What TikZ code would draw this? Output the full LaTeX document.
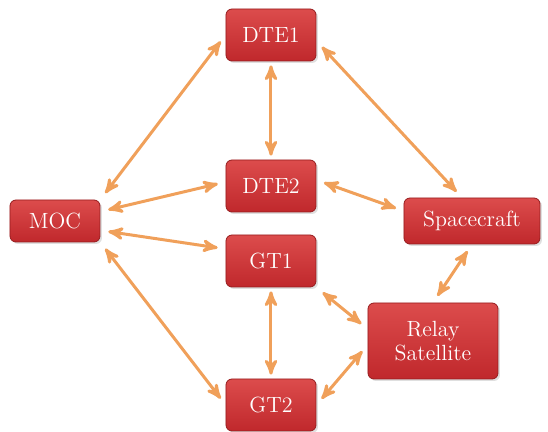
\documentclass[tikz,border=0pt]{standalone}
\usepackage{tikz}
\usetikzlibrary{arrows}
\usetikzlibrary{shadows}
\definecolor{boxred}{RGB}{192,40,44}
\definecolor{boxtop}{RGB}{220,76,76}
\definecolor{boxedge}{RGB}{150,28,30}
\definecolor{linkorange}{RGB}{240,160,90}
\tikzset{
  unit/.style={draw=boxedge, rounded corners=3pt, top color=boxtop, bottom color=boxred,
    text=white, font=\rmfamily\fontsize{11}{12}\selectfont, align=center, inner sep=2pt,
    minimum width=45pt, minimum height=26pt,
    drop shadow={opacity=0.25, shadow xshift=1pt, shadow yshift=-1pt}},
  link/.style={<->, >=stealth', line width=1.5pt, draw=linkorange, shorten >=4pt, shorten <=4pt}
}
\begin{document}
\begin{tikzpicture}[x=0.5pt,y=-0.5pt]
\useasboundingbox (0,0) rectangle (548,432);

\node[unit] (dte1) at (271,35) {DTE1};
\node[unit] (dte2) at (271,186) {DTE2};
\node[unit] (gt1) at (271,261) {GT1};
\node[unit] (gt2) at (271,405) {GT2};
\node[unit, minimum height=21pt] (moc) at (55,221) {MOC};
\node[unit, minimum width=68pt, minimum height=23pt] (sc) at (472,221) {Spacecraft};
\node[unit, minimum width=65pt, minimum height=38pt] (relay) at (433,341) {Relay\\Satellite};

% links from the control centre
\draw [link] (moc.north east) -- (dte1.west);
\draw [link] ([yshift=-6pt]moc.north east) -- ([yshift=2pt]dte2.west);
\draw [link] ([yshift=6pt]moc.south east) -- ([yshift=6pt]gt1.west);
\draw [link] (moc.south east) -- (gt2.west);

% vertical links
\draw [link, shorten >=2pt, shorten <=2pt] (dte1.south) -- (dte2.north);
\draw [link, shorten >=2pt, shorten <=2pt] (gt1.south) -- (gt2.north);

% links to the spacecraft
\draw [link] ([yshift=-3pt]dte1.east) -- ([xshift=-5pt]sc.north);
\draw [link] ([yshift=3pt]dte2.east) -- ([yshift=5pt]sc.west);
\draw [link] (sc.south) -- (relay.north);

% links to the relay
\draw [link] (gt1.south east) -- ([yshift=6pt]relay.west);
\draw [link] (gt2.east) -- ([yshift=-2pt]relay.west);
\end{tikzpicture}
\end{document}
